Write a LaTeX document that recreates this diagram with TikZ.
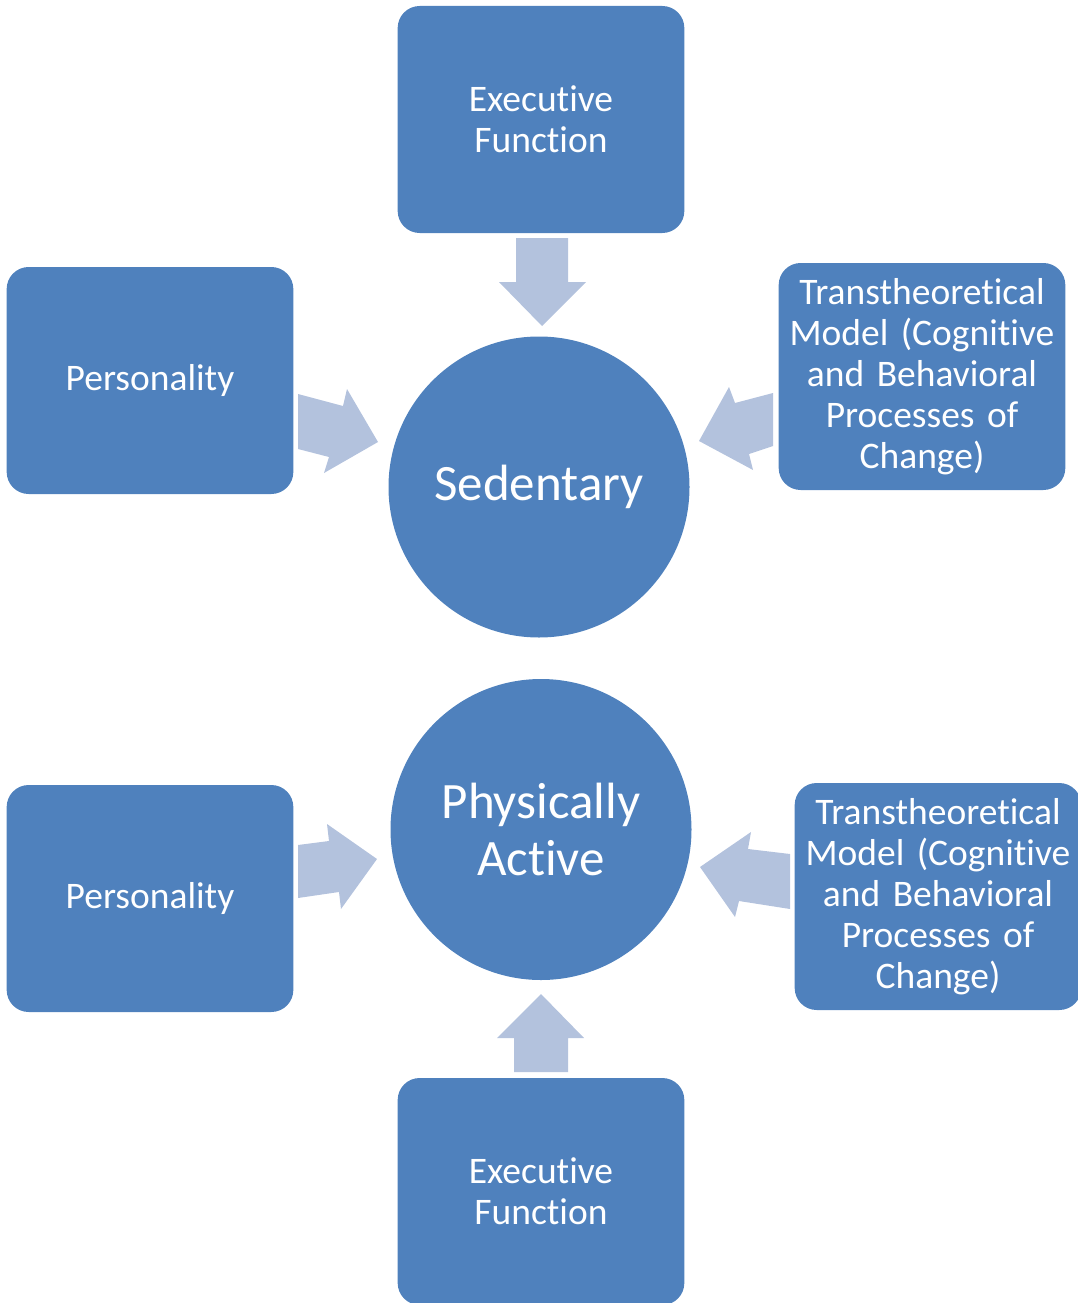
\documentclass[tikz,border=0pt]{standalone}
\usepackage{fontspec}
\setmainfont{Carlito}[Ligatures={NoCommon}, WordSpace=0.85]
\definecolor{boxblue}{HTML}{4F81BD}
\definecolor{arrowblue}{HTML}{B3C2DD}
\tikzset{
    factor/.style={rectangle, rounded corners=22pt, fill=boxblue, text=white,
        minimum width=286pt, minimum height=227pt, text width=280pt, align=center,
        font=\fontsize{37.5}{41}\selectfont},
    state/.style={circle, fill=boxblue, text=white, minimum size=301pt, inner sep=0pt,
        align=center, font=\fontsize{51}{57}\selectfont},
    blockarrow/.style={fill=arrowblue}
}
\begin{document}
\begin{tikzpicture}[x=1pt, y=-1pt]
    \useasboundingbox (0,0) rectangle (1077,1303);

    % upper group
    \node[factor] (execA) at (541, 119.5) {Executive\\Function};
    \node[factor] (persA) at (150, 380.5) {Personality};
    \node[factor] (transA) at (922, 376.5) {Transtheoretical\\Model (Cognitive\\and Behavioral\\Processes of\\Change)};
    \node[state] (sed) at (539, 487) {Sedentary};

    \fill[blockarrow] (516,238) -- (568,238) -- (568,282) -- (586,282) -- (542,326) -- (499,282) -- (516,282) -- cycle;
    \fill[blockarrow] (298,394) -- (343,406) -- (347,389) -- (378,442) -- (324,473) -- (329,457) -- (298,449) -- cycle;
    \fill[blockarrow] (773,393) -- (735,403) -- (729,387) -- (699,441) -- (753,470) -- (749,454) -- (773,446) -- cycle;

    % lower group
    \node[state] (act) at (541, 829.5) {Physically\\Active};
    \node[factor] (persB) at (150, 898.5) {Personality};
    \node[factor] (transB) at (938, 896.5) {Transtheoretical\\Model (Cognitive\\and Behavioral\\Processes of\\Change)};
    \node[factor] (execB) at (541, 1191.5) {Executive\\Function};

    \fill[blockarrow] (298,845) -- (329,841) -- (327,824) -- (377,859) -- (341,909) -- (339,892) -- (298,898) -- cycle;
    \fill[blockarrow] (790,854) -- (748,849) -- (751,832) -- (700,867) -- (735,917) -- (739,901) -- (790,909) -- cycle;
    \fill[blockarrow] (514,1072) -- (568,1072) -- (568,1038) -- (584,1038) -- (541,994) -- (497,1038) -- (514,1038) -- cycle;
\end{tikzpicture}
\end{document}
